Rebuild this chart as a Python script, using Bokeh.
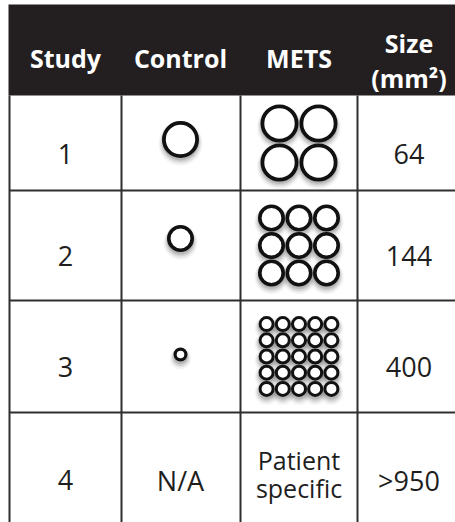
from bokeh.plotting import figure
from bokeh.models import Range1d
from bokeh.embed import file_html
from bokeh.resources import INLINE
from bokeh.core.properties import value

# ---------------- data ----------------
header_labels = ["Study", "Control", "METS"]
size_header = ["Size", "(mm²)"]
studies = ["1", "2", "3", "4"]
control_diam = [37, 27, 14]          # outer diameter of control circle, rows 1-3
mets_grid_n = [2, 3, 5]              # METS grid is n x n circles
mets_diam = [38, 27, 16]             # outer diameter of each METS circle
control_na = "N/A"
mets_text_row4 = ["Patient", "specific"]
sizes = ["64", "144", "400", ">950"]

# ---------------- layout (page pixel coordinates) ----------------
W, H = 455, 522
col_edges = [9, 121, 240, 357, 460]
row_edges = [4, 95, 190, 300, 412, 540]
row_mid = [142.5, 245, 356, 469]
col_mid = [65, 180, 298.5, 408.5]
control_dy = [-3.5, -7, -2]
mets_pitch = [39, 27.5, 16.2]
stroke_w = [3.8, 3.6, 3.0]
ctrl_stroke = [3.8, 3.6, 3.2]
FONT = "Open Sans"
LINE_COL = "#2e2e2e"
HEAD_COL = "#231f20"
TEXT_COL = "#1e1e1e"

p = figure(width=W, height=H, x_range=Range1d(0, W), y_range=Range1d(H, 0),
           output_backend="svg", toolbar_location=None, x_axis_type=None,
           y_axis_type=None, min_border=0, outline_line_color=None,
           background_fill_color="white", border_fill_color="white")
p.grid.visible = False

# header band
p.quad(left=[col_edges[0] - 1], right=[col_edges[-1] + 10], top=[row_edges[0]], bottom=[row_edges[1]],
       fill_color=HEAD_COL, line_color=None)

# grid lines
vx = col_edges[:4]
p.segment(x0=vx, y0=[row_edges[1]] * 4, x1=vx, y1=[row_edges[-1]] * 4,
          line_color=LINE_COL, line_width=2)
hy = row_edges[2:5]
p.segment(x0=[col_edges[0]] * 3, y0=hy, x1=[col_edges[-1]] * 3, y1=hy,
          line_color=LINE_COL, line_width=2)

# circles
cx, cy, cr, cw = [], [], [], []
for i, d in enumerate(control_diam):
    cx.append(col_mid[1]); cy.append(row_mid[i] + control_dy[i])
    w = ctrl_stroke[i]
    cr.append(d / 2 - w / 2); cw.append(w)
for i, n in enumerate(mets_grid_n):
    pitch = mets_pitch[i]
    for a in range(n):
        for b in range(n):
            cx.append(col_mid[2] + (a - (n - 1) / 2) * pitch)
            cy.append(row_mid[i] + (b - (n - 1) / 2) * pitch)
            cr.append(mets_diam[i] / 2 - stroke_w[i] / 2)
            cw.append(stroke_w[i])

# soft drop shadows
for dy, dr, al in [(4.0, 5.5, 0.04), (3.5, 4.2, 0.06), (3.0, 3.0, 0.09), (2.5, 1.8, 0.12)]:
    p.circle(x=cx, y=[y + dy for y in cy], radius=[r + dr for r in cr],
             fill_color="black", fill_alpha=al, line_color=None)

p.circle(x=cx, y=cy, radius=cr, fill_color="white", line_color="#111111", line_width=cw)

# header text
p.text(x=col_mid[:3], y=[57] * 3, text=header_labels, text_color="white",
       text_font=value(FONT), text_font_style="bold", text_font_size="25px",
       text_align="center", text_baseline="alphabetic")
p.text(x=[col_mid[3]] * 2, y=[42, 77], text=size_header, text_color="white",
       text_font=value(FONT), text_font_style="bold", text_font_size="25px",
       text_align="center", text_baseline="alphabetic")

# body text
body_kw = dict(text_color=TEXT_COL, text_font=value(FONT), text_font_size="27px",
               text_align="center", text_baseline="alphabetic")
p.text(x=[col_mid[0]] * 4, y=[m + 10.5 for m in row_mid], text=studies, **body_kw)
p.text(x=[col_mid[3]] * 4, y=[m + 10.5 for m in row_mid], text=sizes, **body_kw)
p.text(x=[col_mid[1]], y=[row_mid[3] + 10.5], text=[control_na], **body_kw)
p.text(x=[col_mid[2]] * 2, y=[row_mid[3] - 10, row_mid[3] + 18], text=mets_text_row4,
       text_color=TEXT_COL, text_font=value(FONT), text_font_size="25px",
       text_align="center", text_baseline="alphabetic")

open("out.html", "w").write(file_html(p, INLINE))
